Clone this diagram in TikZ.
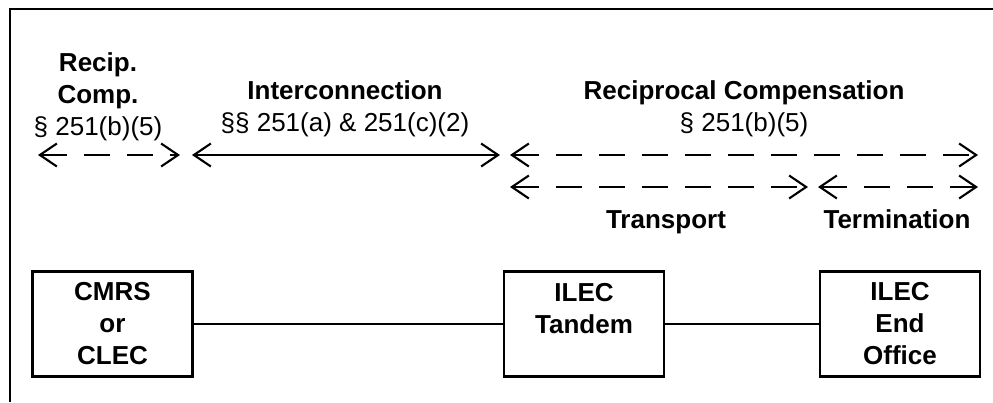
\documentclass[tikz,border=0pt]{standalone}
\usepackage{fontspec}
\setmainfont{Liberation Sans}
\usetikzlibrary{arrows.meta, positioning}

\begin{document}
\begin{tikzpicture}[font=\fontsize{14.8pt}{18.2pt}\selectfont,
    >={Straight Barb[length=0.34cm, width=0.46cm]},
    box/.style={draw, line width=1.4pt, align=center, font=\fontsize{14.8pt}{18.2pt}\selectfont\bfseries,
        minimum width=3.2cm, minimum height=2.1cm, inner sep=2pt},
    span/.style={<->, line width=1.2pt},
    dashspan/.style={span, dash pattern=on 0.52cm off 0.34cm},
    tag/.style={font=\fontsize{14.8pt}{18.2pt}\selectfont\bfseries, anchor=base},
    wire/.style={line width=1.2pt}]
    \useasboundingbox (0,0) rectangle (19.86,8.04);
    \draw[line width=1.1pt] (0.20,0) -- (0.20,7.86) -- (19.86,7.86);

    % headings
    \node[align=center] (recip) at (1.96, 6.10) {\textbf{Recip.}\\\textbf{Comp.}\\§ 251(b)(5)};
    \node[align=center] (inter) at (6.90, 5.86) {\textbf{Interconnection}\\§§ 251(a) \& 251(c)(2)};
    \node[align=center] (recipcomp) at (14.88, 5.86) {\textbf{Reciprocal Compensation}\\§ 251(b)(5)};

    % spans
    \coordinate (rcA) at (0.76, 4.94);
    \coordinate (rcB) at (3.60, 4.94);
    \coordinate (icA) at (3.84, 4.94);
    \coordinate (icB) at (10.00, 4.94);
    \coordinate (cpA) at (10.20, 4.94);
    \coordinate (cpB) at (19.56, 4.94);
    \coordinate (trA) at (10.20, 4.30);
    \coordinate (trB) at (16.16, 4.30);
    \coordinate (tmA) at (16.36, 4.30);
    \coordinate (tmB) at (19.56, 4.30);
    \draw[dashspan] (rcA) -- (rcB);
    \draw[span] (icA) -- (icB);
    \draw[dashspan] (cpA) -- (cpB);
    \draw[dashspan] (trA) -- (trB);
    \draw[dashspan] (tmA) -- (tmB);

    \node[tag] (transport) at (13.32, 3.48) {Transport};
    \node[tag] (termination) at (17.94, 3.48) {Termination};

    % switches
    \node[box] (cmrs) at (2.25, 1.56) {CMRS\\or\\CLEC};
    \node[box] (tandem) at (11.68, 1.56) {ILEC\\Tandem\\\mbox{}};
    \node[box] (endoffice) at (18.00, 1.56) {ILEC\\End\\Office};

    \draw[wire] (cmrs) -- (tandem);
    \draw[wire] (tandem) -- (endoffice);
\end{tikzpicture}
\end{document}
